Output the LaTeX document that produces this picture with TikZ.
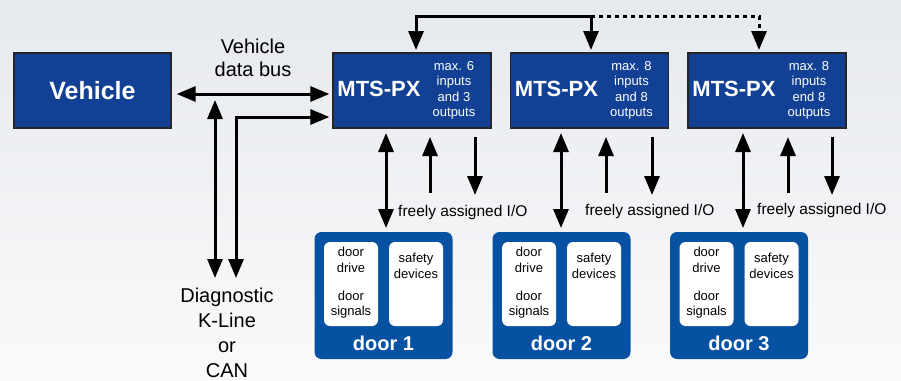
\documentclass[tikz,border=0pt]{standalone}
\usepackage{fontspec}
\setmainfont{Liberation Sans}
\usetikzlibrary{arrows.meta}
\usetikzlibrary{calc}
\definecolor{mtsblue}{RGB}{17,64,148}
\definecolor{doorblue}{RGB}{7,81,163}
\definecolor{skytop}{RGB}{230,233,237}
\definecolor{skybottom}{RGB}{249,250,251}

\begin{document}
\begin{tikzpicture}[x=1pt,y=-1pt,
		unitbox/.style={draw=black!85,line width=1.3pt,fill=mtsblue,minimum width=158pt,minimum height=75pt,inner sep=0pt},
		doorbox/.style={fill=doorblue,rounded corners=7pt,minimum width=138pt,minimum height=127pt,inner sep=0pt},
		innerbox/.style={fill=white,rounded corners=6pt,minimum width=54pt,minimum height=84pt,inner sep=0pt},
		arr/.style={line width=3pt,-{Triangle[length=19pt,width=15pt]}},
		darr/.style={line width=3pt,{Triangle[length=19pt,width=15pt]}-{Triangle[length=19pt,width=15pt]}},
		small/.style={font=\fontsize{13}{15.5}\selectfont,align=center,inner sep=0pt}]
			% background
			\shade[top color=skytop,bottom color=skybottom] (0,0) rectangle (901,380);
			\useasboundingbox (0,0) rectangle (901,380);

			\node[unitbox,minimum width=157pt,text=white,font=\bfseries\fontsize{25}{25}\selectfont] (vehicle) at (92.5,90.5) {Vehicle\hspace{10pt}};
			\node[font=\fontsize{20}{23}\selectfont,align=center] (buslabel) at (253,57.5) {Vehicle\\data bus};

			% control units
			\foreach \i/\x/\a/\b in {1/412/6/and 3,2/589.5/8/and 8,3/767/8/end 8}{
				\node[unitbox] (mts\i) at (\x,90.5) {};
				\node[text=white,font=\bfseries\fontsize{22}{22}\selectfont] (name\i) at ($(mts\i)+(-33,-1.5)$) {MTS-PX};
				\node[small,text=white] (info\i) at ($(mts\i)+(42,0)$) {max. \a\\inputs\\\b\\outputs};
			}

			% doors
			\foreach \i/\x in {1/383.5,2/561.5,3/739}{
				\node[doorbox] (door\i) at (\x,295.5) {};
				\node[innerbox] (drive\i) at ($(door\i)+(-32.5,-11.5)$) {};
				\node[innerbox] (safety\i) at ($(door\i)+(32.5,-11.5)$) {};
				\node[small] (drivetxt\i) at ($(drive\i)+(0,-1)$) {door\\drive\\[12.5pt]door\\signals};
				\node[small,anchor=north] (safetytxt\i) at ($(safety\i.north)+(0,11.5)$) {safety\\devices};
				\node[text=white,font=\bfseries\fontsize{20}{20}\selectfont] (doorname\i) at ($(door\i)+(0,47.5)$) {door \i};
			}

			% bus and diagnostic lines
			\coordinate (busjoin) at (215,100);
			\coordinate (diagA) at (215,278);
			\coordinate (diagB) at (236,278);
			\draw[darr] ($(vehicle.east)+(5,3.5)$) -- ($(mts1.west)+(-3,3.5)$);
			\draw[darr] (diagA) -- (busjoin);
			\draw[darr] (diagB) |- ($(mts1.west)+(-3,26.5)$);
			\node[font=\fontsize{20}{25}\selectfont,align=center] (diag) at (227,332.5) {Diagnostic\\K-Line\\or\\CAN};

			% link between the units
			\coordinate (topline) at (0,16);
			\coordinate (in1) at (416,50);
			\coordinate (in2) at (591,50);
			\coordinate (in3) at (759,50);
			\draw[darr] (in1) -- (in1 |- topline) -| (in2);
			\draw[arr,dash pattern=on 4pt off 4pt] (in2 |- topline) -| (in3);

			% inputs and outputs
			\foreach \i/\dx/\ux/\ox/\lx/\ly in {1/386/430/475/398/212,2/561/606/652/585/211,3/743/788/832/757/210}{
				\coordinate (dtop\i) at (\dx,133);
				\coordinate (dbot\i) at (\dx,228);
				\coordinate (ubot\i) at (\ux,193);
				\coordinate (utop\i) at (\ux,137);
				\coordinate (otop\i) at (\ox,137);
				\coordinate (obot\i) at (\ox,195);
				\draw[darr] (dtop\i) -- (dbot\i);
				\draw[arr] (ubot\i) -- (utop\i);
				\draw[arr] (otop\i) -- (obot\i);
				\node[anchor=west,inner sep=0pt,font=\fontsize{15.5}{15.5}\selectfont] (io\i) at (\lx,\ly) {freely assigned I/O};
			}
		\end{tikzpicture}
\end{document}
